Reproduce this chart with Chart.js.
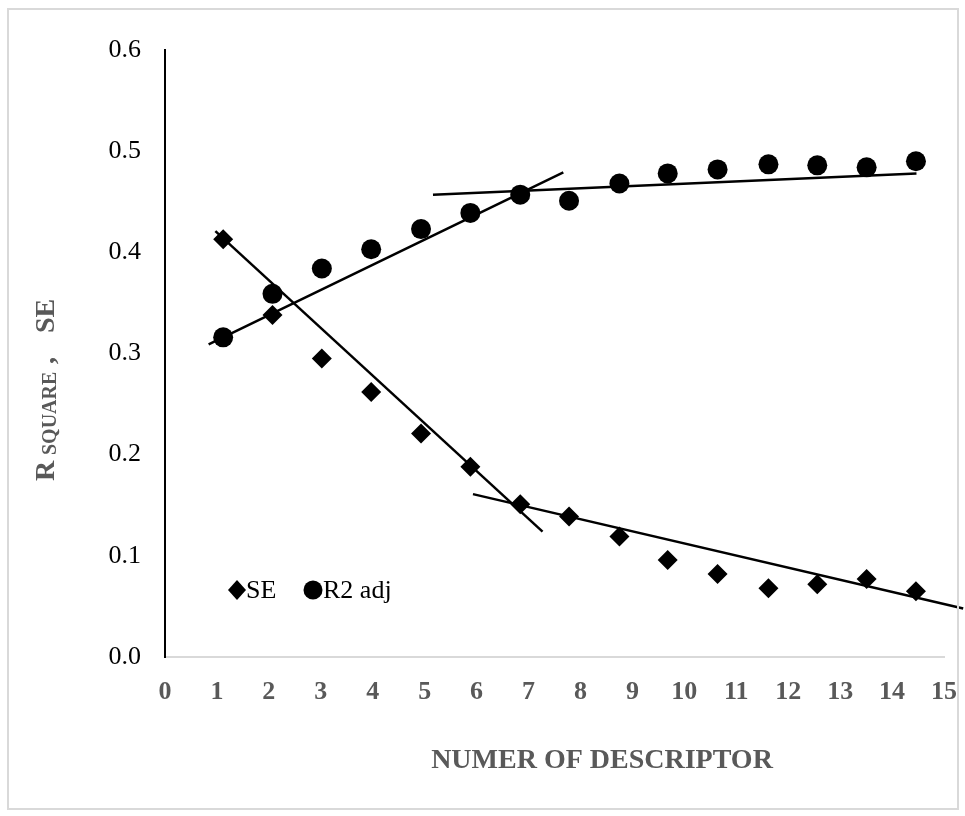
<!DOCTYPE html>
<html>
<head>
<meta charset="utf-8">
<script src="https://cdn.jsdelivr.net/npm/chart.js@4/dist/chart.umd.min.js"></script>
<style>
  html, body { margin: 0; padding: 0; background: #fff; }
  #wrap { position: relative; width: 965px; height: 816px; }
  #frame { position: absolute; left: 7px; top: 8px; width: 952px; height: 802px; border: 2px solid #d9d9d9; box-sizing: border-box; pointer-events: none; }
</style>
</head>
<body>
<div id="wrap">
  <canvas id="grafico" width="965" height="816"></canvas>
  <div id="frame"></div>
</div>
<script>
// valores
const descritores = [1.12, 2.07, 3.02, 3.97, 4.93, 5.88, 6.84, 7.78, 8.75, 9.68, 10.64, 11.62, 12.56, 13.51, 14.46];
const valoresSE = [0.413, 0.338, 0.295, 0.262, 0.221, 0.188, 0.151, 0.139, 0.119, 0.096, 0.082, 0.068, 0.072, 0.077, 0.065];
const valoresR2 = [0.316, 0.359, 0.384, 0.403, 0.423, 0.439, 0.457, 0.451, 0.468, 0.478, 0.482, 0.487, 0.486, 0.484, 0.490];

// linhas de tendência (pontos inicial e final)
const tendSE1 = [[0.97, 0.421], [7.27, 0.124]];
const tendSE2 = [[5.93, 0.161], [15.37, 0.048]];
const tendR2a = [[0.84, 0.309], [7.67, 0.479]];
const tendR2b = [[5.16, 0.457], [14.47, 0.478]];

const xTicks = [0, 1, 2, 3, 4, 5, 6, 7, 8, 9, 10, 11, 12, 13, 14, 15];
const yTicks = [0, 0.1, 0.2, 0.3, 0.4, 0.5, 0.6];

const fonte = '"Liberation Serif", "Times New Roman", serif';
const cinza = '#595959';

function pares(xs, ys) {
  return xs.map((x, i) => ({ x: x, y: ys[i] }));
}

function linha(p) {
  return {
    type: 'line',
    data: p.map(v => ({ x: v[0], y: v[1] })),
    borderColor: '#000',
    borderWidth: 2.5,
    pointRadius: 0,
    fill: false,
    clip: false,
    showLine: true
  };
}

// títulos e legenda desenhados à mão
const extras = {
  id: 'extras',
  afterDraw(chart) {
    const ctx = chart.ctx;
    ctx.save();
    ctx.fillStyle = '#000';

    // legenda
    ctx.beginPath();
    ctx.moveTo(237, 580); ctx.lineTo(246, 590); ctx.lineTo(237, 600); ctx.lineTo(228, 590);
    ctx.closePath(); ctx.fill();
    ctx.beginPath();
    ctx.arc(313, 590, 9.5, 0, Math.PI * 2); ctx.fill();
    ctx.font = '26px ' + fonte;
    ctx.textBaseline = 'middle';
    ctx.textAlign = 'left';
    ctx.fillText('SE', 246, 591);
    ctx.fillText('R2 adj', 323, 591);

    // título eixo x
    ctx.fillStyle = cinza;
    ctx.font = 'bold 28px ' + fonte;
    ctx.textAlign = 'center';
    ctx.fillText('NUMER OF DESCRIPTOR', 602, 761);

    // título eixo y (com subscrito)
    ctx.translate(44, 0);
    ctx.rotate(-Math.PI / 2);
    ctx.textAlign = 'left';
    ctx.textBaseline = 'alphabetic';
    ctx.font = 'bold 28px ' + fonte;
    ctx.fillText('R', -481, 10);
    ctx.font = 'bold 20px ' + fonte;
    ctx.fillText('SQUARE', -455, 12);
    ctx.font = 'bold 28px ' + fonte;
    ctx.fillText(',', -364, 10);
    ctx.fillText('SE', -333, 10);
    ctx.restore();
  }
};

const ctx = document.getElementById('grafico').getContext('2d');
const grafico = new Chart(ctx, {
  type: 'scatter',
  data: {
    datasets: [
      linha(tendSE1),
      linha(tendSE2),
      linha(tendR2a),
      linha(tendR2b),
      {
        label: 'SE',
        data: pares(descritores, valoresSE),
        pointStyle: 'rectRot',
        pointRadius: 10,
        backgroundColor: '#000',
        borderColor: '#000',
        borderWidth: 0
      },
      {
        label: 'R2 adj',
        data: pares(descritores, valoresR2),
        pointStyle: 'circle',
        pointRadius: 10,
        backgroundColor: '#000',
        borderColor: '#000',
        borderWidth: 0
      }
    ]
  },
  options: {
    responsive: false,
    animation: false,
    layout: { padding: { left: 0, right: 21, top: 50, bottom: 0 } },
    plugins: {
      legend: { display: false },
      tooltip: { enabled: false }
    },
    scales: {
      x: {
        type: 'linear',
        min: 0,
        max: 15,
        afterFit(scale) {
          scale.height = 159;
          scale.paddingLeft = 0;
          scale.paddingRight = 0;
        },
        afterBuildTicks(scale) { scale.ticks = xTicks.map(v => ({ value: v })); },
        grid: { display: false, drawTicks: false },
        border: { display: true, color: '#d9d9d9', width: 2 },
        ticks: {
          padding: 20,
          color: cinza,
          font: { family: fonte, size: 26, weight: 'bold' },
          maxRotation: 0,
          autoSkip: false
        }
      },
      y: {
        min: 0,
        max: 0.6,
        afterFit(scale) {
          scale.width = 165;
          scale.paddingTop = 0;
          scale.paddingBottom = 0;
        },
        afterBuildTicks(scale) { scale.ticks = yTicks.map(v => ({ value: v })); },
        grid: { display: false, drawTicks: false },
        border: { display: true, color: '#000', width: 2 },
        ticks: {
          padding: 24,
          color: '#000',
          font: { family: fonte, size: 26 },
          callback: v => Number(v).toFixed(1)
        }
      }
    }
  },
  plugins: [extras]
});
</script>
</body>
</html>
